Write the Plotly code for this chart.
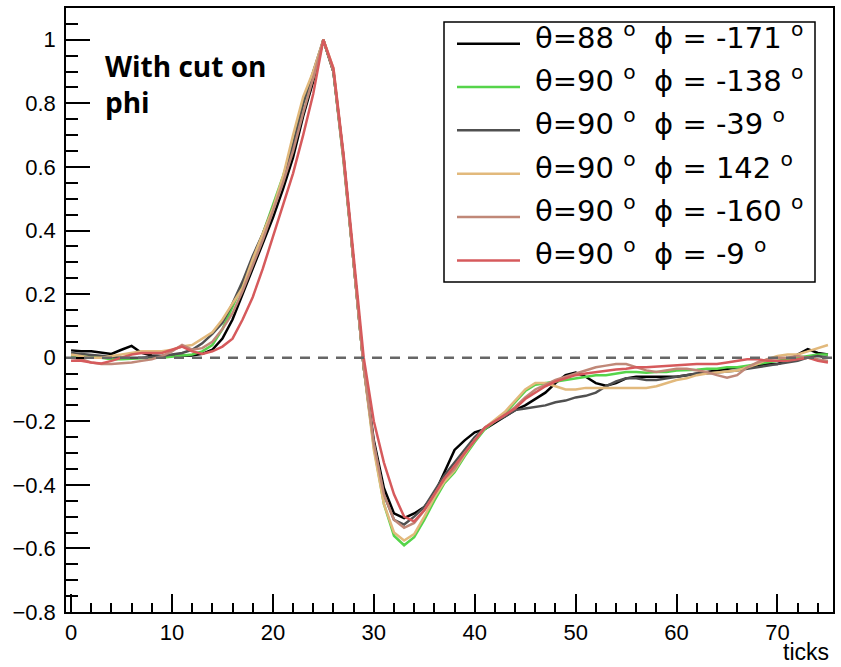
import plotly.graph_objects as go

# ---------------- data ----------------
ticks = list(range(0, 76))

labels = [
    "θ=88 <sup>o</sup>  ϕ = -171 <sup>o</sup>",
    "θ=90 <sup>o</sup>  ϕ = -138 <sup>o</sup>",
    "θ=90 <sup>o</sup>  ϕ = -39 <sup>o</sup>",
    "θ=90 <sup>o</sup>  ϕ = 142 <sup>o</sup>",
    "θ=90 <sup>o</sup>  ϕ = -160 <sup>o</sup>",
    "θ=90 <sup>o</sup>  ϕ = -9 <sup>o</sup>",
]
colors = ["#000000", "#55d44a", "#505050", "#e2b97c", "#c08878", "#d65a5c"]

s_t88_p171 = [0.023, 0.02, 0.02, 0.015, 0.012, 0.025, 0.037, 0.015, 0.007, 0.005, 0.005, 0.005, 0.007,
              0.012, 0.025, 0.06, 0.12, 0.2, 0.28, 0.36, 0.44, 0.53, 0.63, 0.76, 0.87, 1.0,
              0.9, 0.63, 0.3, -0.03, -0.26, -0.41, -0.49, -0.505, -0.49, -0.47, -0.43, -0.36, -0.29, -0.26, -0.235,
              -0.225, -0.205, -0.185, -0.165, -0.15, -0.13, -0.11, -0.08, -0.055, -0.047, -0.06, -0.08, -0.088,
              -0.08, -0.065, -0.06, -0.06, -0.06, -0.06, -0.06, -0.055, -0.05, -0.045, -0.04, -0.035, -0.03,
              -0.03, -0.025, -0.02, -0.02, -0.01, 0.01, 0.027, 0.015, 0.01]
s_t90_p138 = [0.005, 0.005, 0.005, 0.0, -0.005, -0.005, -0.003, 0.0, 0.0, 0.0, 0.003, 0.007, 0.01,
              0.02, 0.04, 0.09, 0.16, 0.23, 0.31, 0.39, 0.48, 0.57, 0.67, 0.8, 0.88, 1.0,
              0.9, 0.62, 0.3, -0.03, -0.28, -0.46, -0.56, -0.59, -0.565, -0.51, -0.45, -0.395, -0.36, -0.31, -0.265,
              -0.225, -0.2, -0.175, -0.14, -0.105, -0.085, -0.08, -0.075, -0.07, -0.065, -0.06, -0.055, -0.055,
              -0.05, -0.045, -0.045, -0.047, -0.045, -0.045, -0.04, -0.04, -0.038, -0.035, -0.035, -0.03, -0.03,
              -0.025, -0.02, -0.015, -0.008, -0.005, 0.0, 0.005, 0.01, 0.01]
s_t90_p39 = [0.015, 0.012, 0.01, 0.008, 0.005, 0.0, 0.0, 0.0, 0.003, 0.005, 0.01, 0.015, 0.025,
             0.045, 0.075, 0.11, 0.17, 0.24, 0.32, 0.39, 0.47, 0.56, 0.67, 0.8, 0.9, 1.0,
             0.9, 0.63, 0.3, -0.03, -0.27, -0.43, -0.51, -0.525, -0.5, -0.47, -0.42, -0.37, -0.33, -0.29, -0.25,
             -0.22, -0.2, -0.185, -0.165, -0.16, -0.155, -0.15, -0.14, -0.135, -0.125, -0.12, -0.11, -0.09,
             -0.075, -0.065, -0.065, -0.07, -0.07, -0.065, -0.06, -0.055, -0.05, -0.05, -0.047, -0.045, -0.04,
             -0.035, -0.03, -0.025, -0.02, -0.015, -0.01, 0.0, 0.005, 0.0]
s_t90_p142 = [0.01, 0.005, 0.0, 0.0, 0.005, 0.01, 0.015, 0.02, 0.02, 0.02, 0.025, 0.035, 0.04,
              0.06, 0.08, 0.12, 0.17, 0.22, 0.31, 0.39, 0.47, 0.57, 0.7, 0.82, 0.9, 1.0,
              0.91, 0.63, 0.3, -0.03, -0.29, -0.46, -0.55, -0.575, -0.555, -0.5, -0.44, -0.39, -0.355, -0.305, -0.26,
              -0.22, -0.195, -0.17, -0.135, -0.1, -0.08, -0.08, -0.09, -0.1, -0.1, -0.095, -0.095, -0.095,
              -0.095, -0.095, -0.095, -0.095, -0.09, -0.08, -0.07, -0.065, -0.055, -0.05, -0.047, -0.045, -0.04,
              -0.03, -0.02, -0.005, 0.005, 0.01, 0.01, 0.02, 0.03, 0.04]
s_t90_p160 = [0.0, -0.005, -0.015, -0.02, -0.02, -0.018, -0.015, -0.01, -0.005, 0.005, 0.02, 0.04, 0.025,
              0.03, 0.05, 0.09, 0.14, 0.21, 0.29, 0.37, 0.46, 0.55, 0.65, 0.77, 0.88, 1.0,
              0.9, 0.62, 0.3, -0.03, -0.27, -0.43, -0.51, -0.535, -0.52, -0.48, -0.43, -0.38, -0.35, -0.3, -0.26,
              -0.22, -0.2, -0.18, -0.155, -0.125, -0.1, -0.085, -0.07, -0.06, -0.05, -0.04, -0.03, -0.025,
              -0.02, -0.02, -0.03, -0.04, -0.045, -0.04, -0.035, -0.035, -0.04, -0.045, -0.055, -0.063, -0.055,
              -0.03, -0.015, -0.005, 0.0, 0.0, 0.005, 0.0, -0.005, -0.01]
s_t90_p9 = [-0.01, -0.01, -0.015, -0.018, -0.01, 0.0, 0.01, 0.015, 0.015, 0.015, 0.025, 0.035, 0.02,
            0.012, 0.02, 0.035, 0.06, 0.12, 0.19, 0.28, 0.38, 0.48, 0.58, 0.7, 0.83, 1.0,
            0.91, 0.64, 0.32, 0.0, -0.2, -0.33, -0.43, -0.5, -0.515, -0.48, -0.43, -0.38, -0.34, -0.3, -0.26,
            -0.22, -0.2, -0.18, -0.16, -0.13, -0.11, -0.09, -0.075, -0.065, -0.055, -0.05, -0.045, -0.04,
            -0.037, -0.035, -0.03, -0.03, -0.028, -0.025, -0.025, -0.022, -0.02, -0.02, -0.02, -0.015, -0.01,
            -0.005, -0.005, -0.01, -0.01, -0.01, -0.005, 0.0, -0.01, -0.015]

series = [s_t88_p171, s_t90_p138, s_t90_p39, s_t90_p142, s_t90_p160, s_t90_p9]

x_range = [-0.5, 75.5]
y_range = [-0.8, 1.1]

# ---------------- figure ----------------
W_FIG, H_FIG = 841, 667
PL, PR, PT, PB = 66, 833, 6, 612
PW, PH = PR - PL, PB - PT


def px_x(p):
    return (p - PL) / PW


def px_y(p):
    return 1 - (p - PT) / PH


FONT = "Liberation Sans, Arial, Helvetica, sans-serif"
LEG_FONT = "DejaVu Sans, Liberation Sans, sans-serif"

fig = go.Figure()
for name, ys, col in zip(labels, series, colors):
    fig.add_trace(go.Scatter(x=ticks, y=ys, mode="lines", name=name,
                             line=dict(color=col, width=2.5), showlegend=False,
                             hoverinfo="x+y"))

shapes = []
# dashed zero line
shapes.append(dict(type="line", xref="paper", yref="y", x0=0, x1=1, y0=0, y1=0,
                   line=dict(color="#666666", width=2.5, dash="10px,8px"), layer="above"))
# legend box
LX0, LX1, LY0, LY1 = 444, 815, 20, 281
shapes.append(dict(type="rect", xref="paper", yref="paper",
                   x0=px_x(LX0), x1=px_x(LX1), y0=px_y(LY1), y1=px_y(LY0),
                   fillcolor="white", line=dict(color="black", width=1.5), layer="above"))

annotations = []
row_h = (LY1 - LY0) / len(labels)
for i, (name, col) in enumerate(zip(labels, colors)):
    yc = LY0 + row_h * (i + 0.5)
    shapes.append(dict(type="line", xref="paper", yref="paper",
                       x0=px_x(457), x1=px_x(520), y0=px_y(yc), y1=px_y(yc),
                       line=dict(color=col, width=2.5), layer="above"))
    annotations.append(dict(text=name, xref="paper", yref="paper",
                            x=px_x(533), y=px_y(yc - 8), xanchor="left", yanchor="middle",
                            showarrow=False, font=dict(family=LEG_FONT, size=29, color="black")))

# "With cut on phi" text
annotations.append(dict(text="<b>With cut on<br>phi</b>", xref="paper", yref="paper",
                        x=px_x(103), y=px_y(43), xanchor="left", yanchor="top", align="left",
                        showarrow=False, font=dict(family="Open Sans, sans-serif", size=28, color="black")))
# x axis title
annotations.append(dict(text="ticks", xref="paper", yref="paper",
                        x=px_x(831), y=px_y(652), xanchor="right", yanchor="middle",
                        showarrow=False, font=dict(family=FONT, size=23, color="black")))

axis_common = dict(showgrid=False, zeroline=False, showline=True, mirror=True,
                   linecolor="black", linewidth=1.5, ticks="inside", tickcolor="black",
                   tickwidth=1.5, tickfont=dict(family=FONT, size=22, color="black"))

fig.update_layout(
    width=W_FIG, height=H_FIG,
    margin=dict(l=PL, r=W_FIG - PR, t=PT, b=H_FIG - PB, pad=0),
    paper_bgcolor="white", plot_bgcolor="white",
    xaxis=dict(range=x_range, tick0=0, dtick=10, ticklen=18,
               minor=dict(dtick=2, ticklen=9, ticks="inside", tickcolor="black", tickwidth=1.5),
               **axis_common),
    yaxis=dict(range=y_range, tick0=0, dtick=0.2, ticklen=24, ticklabelstandoff=4,
               minor=dict(dtick=0.05, ticklen=12, ticks="inside", tickcolor="black", tickwidth=1.5),
               **axis_common),
    shapes=shapes,
    annotations=annotations,
    showlegend=False,
)

fig.write_html("out.html", config={"displayModeBar": False},
               post_script="document.body.style.margin='0px';document.body.style.padding='0px';")
